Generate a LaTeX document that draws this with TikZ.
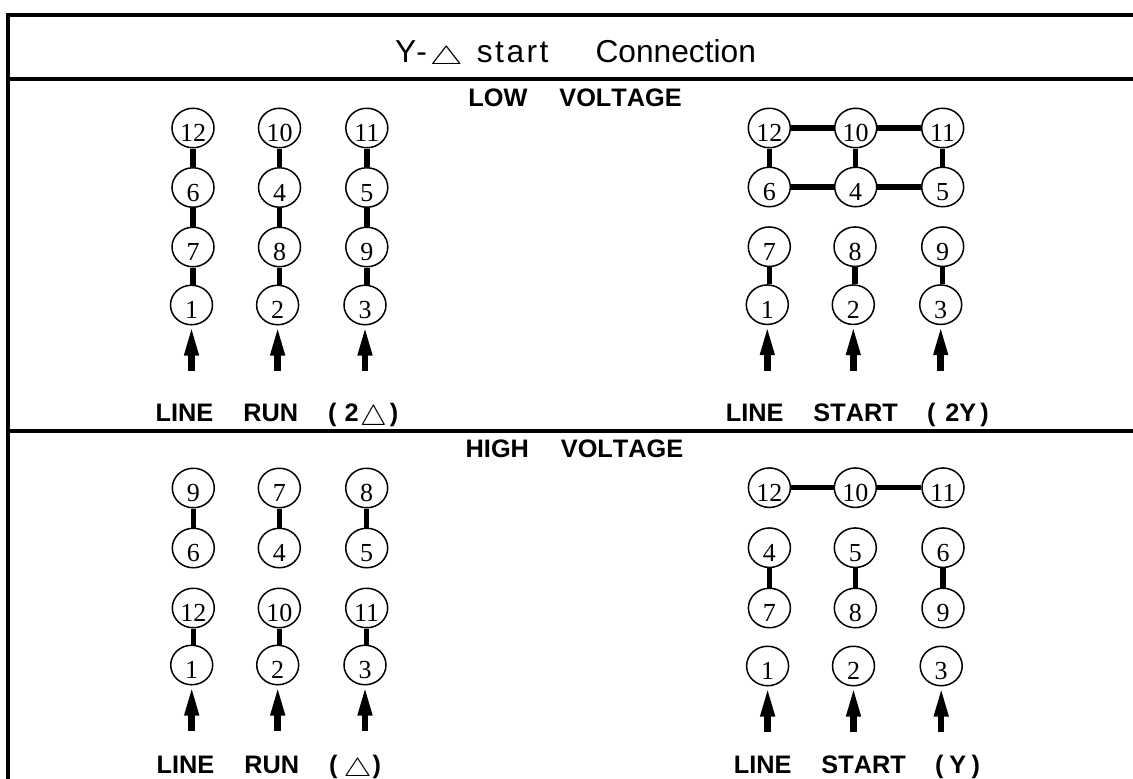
\documentclass[tikz,border=0pt]{standalone}
\usepackage{fontspec}
\setmainfont[Kerning=Off]{Liberation Sans}
\newfontfamily\serifnum{Liberation Serif}
\usetikzlibrary{arrows.meta,shapes.geometric}
\tikzset{
  term/.style={ellipse,draw,line width=1.5pt,minimum width=42pt,minimum height=39.5pt,inner sep=0pt,
    text height=27pt,text depth=0pt,font=\serifnum\fontsize{26}{26}\selectfont},
  link/.style={line width=5.5pt},
  feed/.style={line width=6.5pt,-{Triangle[length=30pt,width=13pt]}},
  frameline/.style={line width=4pt},
  caption/.style={font=\bfseries\fontsize{25.3}{25.3}\selectfont,inner sep=0pt,anchor=base west},
  titletext/.style={font=\fontsize{31.7}{31.7}\selectfont,inner sep=0pt,anchor=base west}
}
\newcommand{\opentri}[3]{\raisebox{#3}{\resizebox{#1}{#2}{\raisebox{0pt}[\height][0pt]{$\triangle$}}}}
\newcommand{\wide}{\hspace{30pt}}
\begin{document}
\begin{tikzpicture}[x=1pt,y=-1pt]
\useasboundingbox (0,0) rectangle (1133,779);
% frame
\coordinate (tl) at (8,15); \coordinate (tr) at (1133,15);
\coordinate (bl) at (8,779);
\coordinate (l1) at (8,79); \coordinate (r1) at (1133,79);
\coordinate (l2) at (8,431); \coordinate (r2) at (1133,431);
\draw[frameline] (bl) -- (tl) -- (tr);
\draw[frameline] (l1) -- (r1);
\draw[frameline] (l2) -- (r2);
% titles
\node[titletext] (ttl) at (395,62) {Y-\hspace{3pt}\opentri{33pt}{18pt}{-2pt}\hspace{14pt}s\hspace{2.5pt}t\hspace{2.5pt}a\hspace{2.5pt}r\hspace{2.5pt}t\hspace{47pt}Connection};
\node[caption] (low) at (468.2,106) {LOW\hspace{32pt}VOLTAGE};
\node[caption] (high) at (465.5,457.5) {HIGH\hspace{32pt}VOLTAGE};
\node[caption] (c1) at (155.5,421.7) {LINE\wide RUN\wide (\hspace{8pt}2\hspace{1.5pt}\opentri{26.7pt}{20pt}{-3.3pt}\hspace{3pt})};
\node[caption] (c2) at (725.6,421.7) {LINE\wide START\hspace{29.4pt}(\hspace{9.8pt}2Y\hspace{4pt})};
\node[caption] (c3) at (156.5,773.3) {LINE\wide RUN\wide (\hspace{6pt}\opentri{28pt}{18pt}{-2.7pt}\hspace{1pt})};
\node[caption] (c4) at (733.6,773.3) {LINE\wide START\hspace{29.4pt}(\hspace{5.7pt}Y\hspace{5.5pt})};
% terminals
\foreach \n/\t/\x/\y in {a12/12/193/128,a10/10/279.5/128,a11/11/366.8/128,
  a6/6/193/187.5,a4/4/279.5/187.5,a5/5/366.8/187.5,
  a7/7/193/247,a8/8/279.5/247,a9/9/366.8/247,
  a1/1/191.5/305,a2/2/277.6/305,a3/3/365/305,
  b12/12/769.3/128,b10/10/855.7/128,b11/11/942.7/128,
  b6/6/769.3/187,b4/4/855.7/187,b5/5/942.7/187,
  b7/7/769.3/246.7,b8/8/855/246.7,b9/9/942.7/246.7,
  b1/1/767.3/304.7,b2/2/853.3/304.7,b3/3/940.7/304.7,
  c9/9/193.3/488,c7/7/279.3/488,c8/8/366.7/488,
  c6/6/193.3/548,c4/4/279.3/548,c5/5/366.7/548,
  c12/12/193.3/608,c10/10/279.3/608,c11/11/366.7/608,
  c1x/1/191.7/665,c2x/2/277.7/665,c3x/3/365/665,
  d12/12/769.4/487.7,d10/10/855.3/487.7,d11/11/943/487.7,
  d4/4/769.4/547.7,d5/5/855.3/547.7,d6/6/943/547.7,
  d7/7/769.4/608,d8/8/855.3/608,d9/9/943/608,
  d1/1/767.6/666,d2/2/853.5/666,d3/3/941.2/666}
  {\node[term] (\n) at (\x,\y) {\t};}
% vertical links
\foreach \p/\q in {a12/a6,a6/a7,a7/a1,a10/a4,a4/a8,a8/a2,a11/a5,a5/a9,a9/a3,
  b12/b6,b10/b4,b11/b5,b7/b1,b8/b2,b9/b3,
  c9/c6,c7/c4,c8/c5,c12/c1x,c10/c2x,c11/c3x,
  d4/d7,d5/d8,d6/d9}
  {\draw[link] (\p.south) -- (\p.south |- \q.north);}
% horizontal links
\foreach \p/\q in {b12/b10,b10/b11,b6/b4,b4/b5,d12/d10,d10/d11}
  {\draw[link] (\p) -- (\q);}
% feeds
\foreach \n/\y in {a1/371,a2/371,a3/371,b1/371,b2/371,b3/371,
  c1x/731,c2x/731,c3x/731,d1/732,d2/732,d3/732}
  {\coordinate (t\n) at (\n.south |- 0,\y); \draw[feed] (t\n) -- (\n.south);}
\end{tikzpicture}
\end{document}
